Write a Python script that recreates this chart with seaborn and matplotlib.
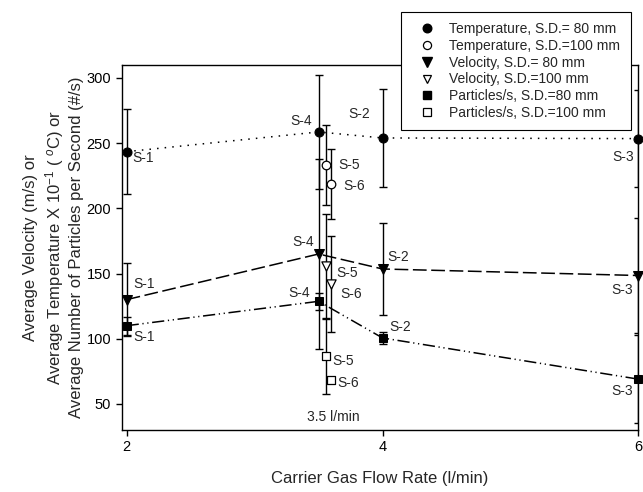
import numpy as np
import pandas as pd
import seaborn as sns
import matplotlib.pyplot as plt
from matplotlib.lines import Line2D

# Standoff distance 80 mm (samples S-1, S-4, S-2, S-3)
flow_80 = [2.0, 3.5, 4.0, 6.0]
names_80 = ['S-1', 'S-4', 'S-2', 'S-3']
temp_80 = [243.5, 258.6, 254.0, 253.5]
temp_80_err = [32.5, 44.0, 37.5, 37.0]
vel_80 = [130.0, 165.0, 153.5, 148.5]
vel_80_err = [28.0, 73.0, 35.0, 44.0]
part_80 = [110.0, 128.7, 100.6, 69.0]
part_80_err = [7.0, 6.5, 4.5, 34.0]

# Standoff distance 100 mm (samples S-5, S-6), both at 3.5 l/min
flow_100 = [3.555, 3.597]
names_100 = ['S-5', 'S-6']
temp_100 = [233.3, 218.7]
temp_100_err = [31.0, 26.5]
vel_100 = [156.0, 142.0]
vel_100_err = [40.0, 37.0]
part_100 = [86.5, 68.5]
part_100_err = [29.0, 0.0]

legend_labels = ['Temperature, S.D.= 80 mm', 'Temperature, S.D.=100 mm',
                 'Velocity, S.D.= 80 mm', 'Velocity, S.D.=100 mm',
                 'Particles/s, S.D.=80 mm', 'Particles/s, S.D.=100 mm']

df80 = pd.DataFrame({'flow': flow_80, 'name': names_80, 'temp': temp_80,
                     'temp_err': temp_80_err, 'vel': vel_80, 'vel_err': vel_80_err,
                     'part': part_80, 'part_err': part_80_err})
df100 = pd.DataFrame({'flow': flow_100, 'name': names_100, 'temp': temp_100,
                      'temp_err': temp_100_err, 'vel': vel_100, 'vel_err': vel_100_err,
                      'part': part_100, 'part_err': part_100_err})

sns.set_style('ticks')
plt.rcParams['font.family'] = ['Liberation Sans', 'DejaVu Sans']
plt.rcParams['mathtext.fontset'] = 'custom'
plt.rcParams['mathtext.rm'] = 'Liberation Sans'
plt.rcParams['mathtext.it'] = 'Liberation Sans:italic'

fig, ax = plt.subplots(figsize=(6.43, 4.92), dpi=100)
fig.subplots_adjust(left=0.189, right=0.993, bottom=0.126, top=0.868)

# (column, marker, line style)
series = [
    ('temp', 'o', (0, (1, 4))),
    ('vel', 'v', (0, (9, 3))),
    ('part', 's', (0, (8, 2.4, 0.8, 2.4, 0.8, 2.4))),
]
msize = {'o': 6.5, 'v': 7, 's': 6}

for col, mk, ls in series:
    # error bars first, below markers
    for d in (df80, df100):
        e = d[d[col + '_err'] > 0]
        ax.errorbar(e['flow'], e[col], yerr=e[col + '_err'], fmt='none',
                    ecolor='black', elinewidth=1, capsize=3.2, capthick=1, zorder=2)
    sns.lineplot(data=df80, x='flow', y=col, ax=ax, color='black', lw=1.1,
                 linestyle=ls, marker=mk, markersize=msize[mk],
                 markerfacecolor='black', markeredgecolor='black', zorder=3,
                 clip_on=False)
    sns.scatterplot(data=df100, x='flow', y=col, ax=ax, marker=mk,
                    s=msize[mk] ** 2 * 0.9, color='white', edgecolor='black',
                    linewidth=0.9, zorder=4)

# sample labels: (dx px, dy px, ha) per point
offsets = {
    'temp': {'S-1': (6, -6, 'left'), 'S-4': (-7, 11, 'right'), 'S-2': (-12, 24, 'right'),
             'S-3': (-5, -18, 'right'), 'S-5': (13, 0, 'left'), 'S-6': (12, -2, 'left')},
    'vel': {'S-1': (7, 16, 'left'), 'S-4': (-5, 12, 'right'), 'S-2': (5, 12, 'left'),
            'S-3': (-6, -14, 'right'), 'S-5': (11, -7, 'left'), 'S-6': (9, -10, 'left')},
    'part': {'S-1': (7, -11, 'left'), 'S-4': (-9, 8, 'right'), 'S-2': (7, 11, 'left'),
             'S-3': (-6, -12, 'right'), 'S-5': (7, -5, 'left'), 'S-6': (6, -3, 'left')},
}
for col, _, _ in series:
    for d in (df80, df100):
        for _, r in d.iterrows():
            dx, dy, ha = offsets[col][r['name']]
            ax.annotate(r['name'], (r['flow'], r[col]), xytext=(dx, dy),
                        textcoords='offset pixels', ha=ha, va='center', fontsize=10)

ax.text(3.41, 40, '3.5 l/min', fontsize=10, ha='left', va='center')

ax.set_xlim(1.96, 6.0)
ax.set_ylim(30, 310)
ax.set_xticks([2, 4, 6])
ax.set_yticks([50, 100, 150, 200, 250, 300])
ax.tick_params(direction='out', length=4, width=1, labelsize=10.5, colors='black')
for s in ax.spines.values():
    s.set_visible(True)
    s.set_color('black')
    s.set_linewidth(1)

ax.set_xlabel('Carrier Gas Flow Rate (l/min)', fontsize=12, labelpad=12)
ax.set_ylabel('Average Velocity (m/s) or\n'
              r'Average Temperature X 10$^{-1}$ ( $^{o}$C) or' '\n'
              'Average Number of Particles per Second (#/s)',
              fontsize=12, labelpad=2, linespacing=1.25)

handles = []
for _, mk, _ in series:
    handles.append(Line2D([], [], ls='none', marker=mk, markersize=msize[mk] * 0.95,
                          markerfacecolor='black', markeredgecolor='black'))
    handles.append(Line2D([], [], ls='none', marker=mk, markersize=msize[mk] * 0.9,
                          markerfacecolor='white', markeredgecolor='black', markeredgewidth=0.9))
leg = ax.legend(handles, legend_labels, loc='upper left',
                bbox_to_anchor=(400.7 / 643, 1 - 11.7 / 492), bbox_transform=fig.transFigure,
                borderaxespad=0, fontsize=10, frameon=True, fancybox=False, framealpha=1,
                edgecolor='black', borderpad=0.75, labelspacing=0.2,
                handlelength=2.3, handletextpad=0.45)
leg.get_frame().set_linewidth(0.8)
leg.set_zorder(10)

fig.savefig('out.png', dpi=100)
